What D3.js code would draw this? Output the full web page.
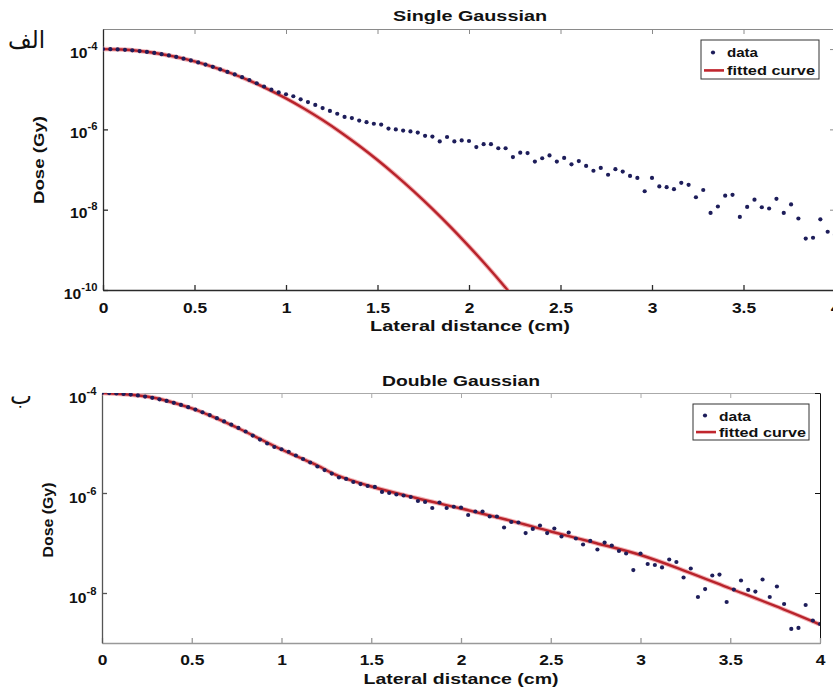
<!DOCTYPE html>
<html>
<head>
<meta charset="utf-8">
<script src="https://cdn.jsdelivr.net/npm/d3@7"></script>
<style>
  body { margin: 0; background: #fff; }
  svg text { font-family: "Liberation Sans", Arial, sans-serif; font-weight: bold; fill: #111; }
</style>
</head>
<body>
<svg id="chart" width="833" height="691"></svg>
<script>
// measured points: lateral distance (cm) and dose (Gy)
var distance = [
    0.00, 0.04, 0.08, 0.12, 0.16, 0.20, 0.24, 0.28, 0.32, 0.36,
    0.40, 0.44, 0.48, 0.52, 0.56, 0.60, 0.64, 0.68, 0.72, 0.76,
    0.80, 0.84, 0.88, 0.92, 0.96, 1.00, 1.04, 1.08, 1.12, 1.16,
    1.20, 1.24, 1.28, 1.32, 1.36, 1.40, 1.44, 1.48, 1.52, 1.56,
    1.60, 1.64, 1.68, 1.72, 1.76, 1.80, 1.84, 1.88, 1.92, 1.96,
    2.00, 2.04, 2.08, 2.12, 2.16, 2.20, 2.24, 2.28, 2.32, 2.36,
    2.40, 2.44, 2.48, 2.52, 2.56, 2.60, 2.64, 2.68, 2.72, 2.76,
    2.80, 2.84, 2.88, 2.92, 2.96, 3.00, 3.04, 3.08, 3.12, 3.16,
    3.20, 3.24, 3.28, 3.32, 3.36, 3.40, 3.44, 3.48, 3.52, 3.56,
    3.60, 3.64, 3.68, 3.72, 3.76, 3.80, 3.84, 3.88, 3.92, 3.96,
    4.00
];
var dose = [
    1.00e-4, 9.95e-5, 9.82e-5, 9.59e-5, 9.31e-5, 8.93e-5, 8.49e-5, 8.02e-5, 7.48e-5, 6.93e-5,
    6.37e-5, 5.78e-5, 5.21e-5, 4.66e-5, 4.12e-5, 3.61e-5, 3.14e-5, 2.70e-5, 2.34e-5, 2.00e-5,
    1.70e-5, 1.41e-5, 1.17e-5, 9.77e-6, 8.32e-6, 7.50e-6, 6.68e-6, 5.62e-6, 4.79e-6, 4.07e-6,
    3.39e-6, 2.88e-6, 2.45e-6, 2.04e-6, 1.91e-6, 1.66e-6, 1.51e-6, 1.38e-6, 1.32e-6, 1.05e-6,
    1.00e-6, 9.33e-7, 8.91e-7, 8.32e-7, 6.92e-7, 6.61e-7, 5.01e-7, 6.46e-7, 5.01e-7, 5.31e-7,
    5.13e-7, 3.63e-7, 4.27e-7, 4.27e-7, 3.39e-7, 3.39e-7, 2.04e-7, 2.63e-7, 2.57e-7, 1.58e-7,
    1.91e-7, 2.24e-7, 1.58e-7, 1.95e-7, 1.35e-7, 1.62e-7, 1.23e-7, 9.33e-8, 1.10e-7, 7.41e-8,
    1.02e-7, 8.91e-8, 6.92e-8, 6.17e-8, 2.88e-8, 6.17e-8, 3.80e-8, 3.63e-8, 3.24e-8, 4.68e-8,
    4.17e-8, 2.04e-8, 3.09e-8, 8.32e-9, 1.20e-8, 2.24e-8, 2.34e-8, 6.61e-9, 1.17e-8, 1.78e-8,
    1.15e-8, 1.07e-8, 1.86e-8, 8.32e-9, 1.35e-8, 6.03e-9, 1.91e-9, 2.00e-9, 5.75e-9, 2.82e-9,
    2.40e-9
];

// single gaussian fit
var singleFitX = [0, 0.1, 0.2, 0.3, 0.4, 0.5, 0.6, 0.7, 0.8, 0.9, 1.0, 1.1,
    1.2, 1.3, 1.4, 1.5, 1.6, 1.7, 1.8, 1.9, 2.0, 2.1, 2.2, 2.3];
var singleFitDose = [1.00e-4, 9.72e-5, 8.93e-5, 7.74e-5, 6.37e-5, 4.93e-5, 3.61e-5, 2.50e-5,
    1.64e-5, 1.01e-5, 5.92e-6, 3.27e-6, 1.71e-6, 8.41e-7, 3.92e-7, 1.73e-7, 7.18e-8, 2.82e-8,
    1.05e-8, 3.69e-9, 1.22e-9, 3.85e-10, 1.14e-10, 3.19e-11];

// double gaussian fit
var doubleFitX = [0, 0.25, 0.5, 0.75, 1.0, 1.1, 1.2, 1.3, 1.4, 1.5, 1.75, 2.0,
    2.25, 2.5, 2.75, 3.0, 3.25, 3.5, 3.75, 4.0];
var doubleFitDose = [1.00e-4, 8.51e-5, 4.90e-5, 2.04e-5, 7.41e-6, 5.13e-6, 3.55e-6, 2.34e-6,
    1.74e-6, 1.35e-6, 7.94e-7, 4.90e-7, 2.95e-7, 1.70e-7, 1.00e-7, 5.75e-8, 2.75e-8, 1.23e-8,
    5.50e-9, 2.34e-9];

var xTicks = [0, 0.5, 1, 1.5, 2, 2.5, 3, 3.5, 4];
var topYTicks = [1e-10, 1e-8, 1e-6, 1e-4];
var bottomYTicks = [1e-8, 1e-6, 1e-4];
var legendLabels = ['data', 'fitted curve'];

var svg = d3.select('#chart');

// the source picture is stretched sideways, so text is fitted to measured lengths
var panels = [
    {
        id: 'single', title: 'Single Gaussian', letter: '\u0627\u0644\u0641',
        left: 103, right: 835, top: 29, bottom: 290,
        yDomain: [1e-10, 3.162e-4], yTicks: topYTicks,
        fitX: singleFitX, fitY: singleFitDose,
        titlePos: [470, 21, 154], xLabelPos: [470, 331, 200], yLabelPos: [44, 160, 88],
        tickBaseline: 23, yTickBaseline: 8,
        legend: { x: 701, y: 40, w: 118, h: 39, dataLen: 31, fitLen: 88 },
        letterPos: [8, 48, 37],
        axisColor: { left: '#2a2a2a', bottom: '#2a2a2a', top: '#8a8a8a', right: '#8a8a8a' }
    },
    {
        id: 'double', title: 'Double Gaussian', letter: '\u0628',
        left: 102, right: 820, top: 393, bottom: 643,
        yDomain: [1e-9, 1e-4], yTicks: bottomYTicks,
        fitX: doubleFitX, fitY: doubleFitDose,
        titlePos: [461, 386, 158], xLabelPos: [461, 684, 195], yLabelPos: [53, 520, 75],
        tickBaseline: 22, yTickBaseline: 9,
        legend: { x: 693, y: 404, w: 116, h: 36, dataLen: 32, fitLen: 87 },
        letterPos: [10, 404, 22],
        axisColor: { left: '#555', bottom: '#999', top: '#aaa', right: '#111' }
    }
];

panels.forEach(drawPanel);

function fittedText(parent, x, y, len, size, str) {
    return parent.append('text')
        .attr('x', x).attr('y', y)
        .attr('text-anchor', 'middle')
        .attr('font-size', size)
        .attr('textLength', len)
        .attr('lengthAdjust', 'spacingAndGlyphs')
        .text(str);
}

function drawPanel(p) {
    var x = d3.scaleLinear().domain([0, 4]).range([p.left, p.right]);
    var y = d3.scaleLog().domain(p.yDomain).range([p.bottom, p.top]);
    var g = svg.append('g');

    svg.append('clipPath').attr('id', 'clip-' + p.id)
        .append('rect')
        .attr('x', p.left).attr('y', p.top)
        .attr('width', p.right - p.left).attr('height', p.bottom - p.top);

    // box axes, ticks pointing in (matlab style)
    g.append('g')
        .attr('transform', 'translate(0,' + p.top + ')')
        .call(d3.axisTop(x).tickValues(xTicks).tickSize(-5).tickSizeOuter(0).tickFormat(''))
        .call(function (a) { a.selectAll('path,line').attr('stroke', p.axisColor.top); });
    g.append('g')
        .attr('transform', 'translate(' + p.right + ',0)')
        .call(d3.axisRight(y).tickValues(p.yTicks).tickSize(-5).tickSizeOuter(0).tickFormat(''))
        .call(function (a) { a.selectAll('path,line').attr('stroke', p.axisColor.right); });

    g.append('g')
        .attr('transform', 'translate(0,' + p.bottom + ')')
        .call(d3.axisBottom(x).tickValues(xTicks).tickSize(-5).tickSizeOuter(0)
            .tickFormat(function (d) { return String(d); }))
        .call(function (a) {
            a.selectAll('path,line').attr('stroke', p.axisColor.bottom).attr('stroke-width', 1.3);
            a.selectAll('text')
                .attr('y', p.tickBaseline).attr('dy', null)
                .attr('transform', 'scale(1.2,1)')
                .attr('font-size', 14.5).attr('font-family', null).attr('fill', '#111');
        });

    g.append('g')
        .attr('transform', 'translate(' + p.left + ',0)')
        .call(d3.axisLeft(y).tickValues(p.yTicks).tickSize(-5).tickSizeOuter(0).tickFormat(''))
        .call(function (a) {
            a.selectAll('path,line').attr('stroke', p.axisColor.left).attr('stroke-width', 1.3);
            a.selectAll('.tick text').remove();
            a.selectAll('.tick').append('text')
                .attr('x', -5).attr('y', p.yTickBaseline)
                .attr('text-anchor', 'end')
                .attr('transform', 'scale(1.12,1)')
                .attr('font-size', 14)
                .attr('fill', '#111')
                .text('10')
                .append('tspan')
                .attr('dy', -8)
                .attr('font-size', 10)
                .text(function (d) { return String(Math.round(Math.log10(d))); });
        });
    g.selectAll('.domain').attr('fill', 'none');

    // fitted curve
    var line = d3.line()
        .x(function (d, i) { return x(p.fitX[i]); })
        .y(function (d) { return y(d); })
        .curve(d3.curveMonotoneX);
    var plot = g.append('g').attr('clip-path', 'url(#clip-' + p.id + ')');
    plot.append('path')
        .attr('d', line(p.fitY))
        .attr('fill', 'none')
        .attr('stroke', '#f3b3b6')
        .attr('stroke-width', 4.5);
    plot.append('path')
        .attr('d', line(p.fitY))
        .attr('fill', 'none')
        .attr('stroke', '#b8232b')
        .attr('stroke-width', 2.4);

    // data points
    plot.selectAll('circle')
        .data(dose)
        .enter()
        .append('circle')
        .attr('cx', function (d, i) { return x(distance[i]); })
        .attr('cy', function (d) { return y(d); })
        .attr('r', 2.1)
        .attr('fill', '#1d1d5a');

    // titles
    fittedText(g, p.titlePos[0], p.titlePos[1], p.titlePos[2], 15, p.title);
    fittedText(g, p.xLabelPos[0], p.xLabelPos[1], p.xLabelPos[2], 15, 'Lateral distance (cm)');
    fittedText(g, 0, 0, p.yLabelPos[2], 15, 'Dose (Gy)')
        .attr('transform', 'translate(' + p.yLabelPos[0] + ',' + p.yLabelPos[1] + ') rotate(-90)');

    // legend
    var L = p.legend;
    var lg = g.append('g').attr('transform', 'translate(' + L.x + ',' + L.y + ')');
    lg.append('rect')
        .attr('width', L.w).attr('height', L.h)
        .attr('fill', '#fff').attr('stroke', '#333').attr('stroke-width', 1);
    var row1 = L.h * 0.32, row2 = L.h * 0.78;
    lg.append('circle').attr('cx', 12).attr('cy', row1).attr('r', 2.1).attr('fill', '#1d1d5a');
    lg.append('line').attr('x1', 3).attr('x2', 23).attr('y1', row2).attr('y2', row2)
        .attr('stroke', '#c0262e').attr('stroke-width', 2.6);
    lg.selectAll('text.leg')
        .data(legendLabels)
        .enter()
        .append('text')
        .attr('class', 'leg')
        .attr('x', 26)
        .attr('y', function (d, i) { return (i === 0 ? row1 : row2) + 5; })
        .attr('font-size', 13)
        .attr('textLength', function (d, i) { return i === 0 ? L.dataLen : L.fitLen; })
        .attr('lengthAdjust', 'spacingAndGlyphs')
        .text(function (d) { return d; });

    // panel letter (arabic)
    svg.append('text')
        .attr('x', p.letterPos[0]).attr('y', p.letterPos[1])
        .style('font-family', '"DejaVu Sans", sans-serif')
        .style('font-weight', 'normal')
        .attr('font-size', 24)
        .attr('textLength', p.letterPos[2])
        .attr('lengthAdjust', 'spacingAndGlyphs')
        .text(p.letter);
}
</script>
</body>
</html>
